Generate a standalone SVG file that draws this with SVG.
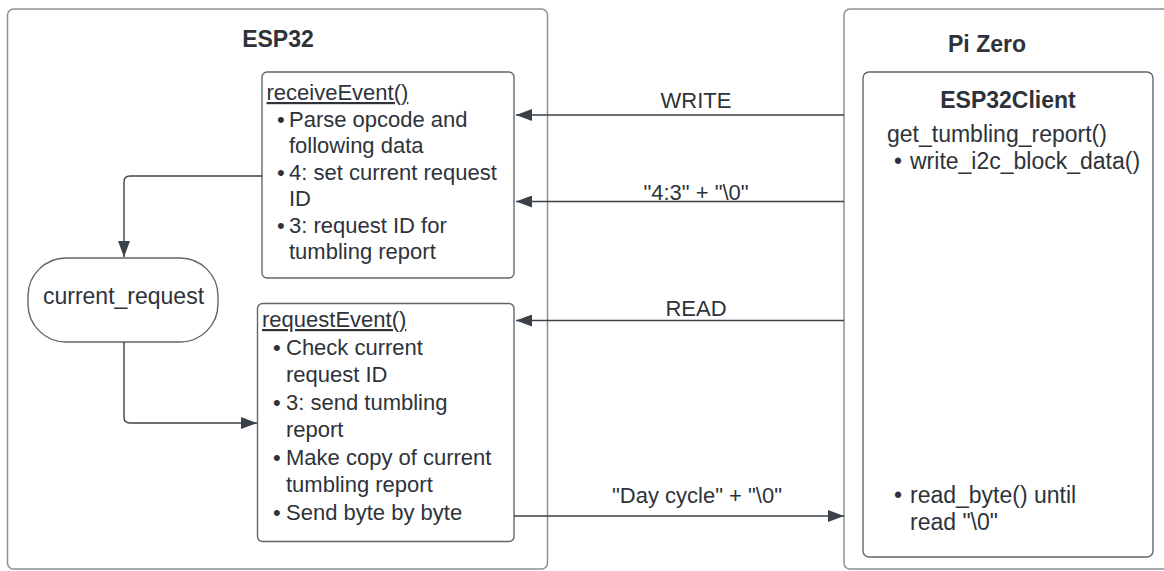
<svg xmlns="http://www.w3.org/2000/svg" width="1164" height="571" viewBox="0 0 1164 571">
<defs>
<style>
text{font-family:"Liberation Sans",Arial,sans-serif;font-size:22px;fill:#2e333a}
.title{font-weight:bold;text-anchor:middle;font-size:23px}
.big{font-size:23px}
.lbl{text-anchor:middle}
.u{text-decoration:underline}
.outer{fill:#fff;stroke:#8c9096;stroke-width:1.5}
.inner{fill:#fff;stroke:#62666c;stroke-width:1.4}
.conn{fill:none;stroke:#3b4149;stroke-width:1.4}
</style>
<marker id="ah" markerUnits="userSpaceOnUse" markerWidth="16" markerHeight="12" refX="16" refY="6" orient="auto">
<path d="M0,0 L16,6 L0,12 z" fill="#3b4149"/>
</marker>
</defs>
<rect width="1164" height="571" fill="#fff"/>
<g id="esp32">
<rect class="outer" x="7.5" y="9" width="540" height="560" rx="6"/>
<text class="title" x="278" y="47">ESP32</text>
</g>
<g id="pizero">
<rect class="outer" x="844" y="9" width="330" height="560" rx="6"/>
<text class="title" x="987" y="52">Pi Zero</text>
</g>
<g id="esp32client">
<rect class="inner" x="863" y="72" width="290" height="485" rx="6"/>
<text class="title" x="1008" y="108">ESP32Client</text>
<text class="big" x="887" y="142">get_tumbling_report()</text>
<text class="big"><tspan x="894" y="169">•</tspan><tspan x="910" y="169">write_i2c_block_data()</tspan></text>
<text class="big"><tspan x="894" y="503">•</tspan><tspan x="910" y="503">read_byte() until</tspan></text>
<text class="big" x="910" y="530">read "\0"</text>
</g>
<g id="receiveEvent">
<rect class="inner" x="262" y="72" width="252" height="206" rx="5"/>
<text class="u" x="266.5" y="100">receiveEvent()</text>
<text><tspan x="277" y="126.5">•</tspan><tspan x="289" y="126.5">Parse opcode and</tspan></text>
<text x="289" y="153">following data</text>
<text><tspan x="277" y="179.5">•</tspan><tspan x="289" y="179.5">4: set current request</tspan></text>
<text x="289" y="206">ID</text>
<text><tspan x="277" y="232.5">•</tspan><tspan x="289" y="232.5">3: request ID for</tspan></text>
<text x="289" y="259">tumbling report</text>
</g>
<g id="currentRequest">
<rect class="inner" x="28" y="258" width="190" height="84" rx="38"/>
<text class="lbl big" x="123.5" y="304">current_request</text>
</g>
<g id="requestEvent">
<rect class="inner" x="257.5" y="303.5" width="256.5" height="238" rx="5"/>
<text class="u" x="262" y="327">requestEvent()</text>
<text><tspan x="273" y="354.5">•</tspan><tspan x="286" y="354.5">Check current</tspan></text>
<text x="286" y="382">request ID</text>
<text><tspan x="273" y="409.5">•</tspan><tspan x="286" y="409.5">3: send tumbling</tspan></text>
<text x="286" y="437">report</text>
<text><tspan x="273" y="464.5">•</tspan><tspan x="286" y="464.5">Make copy of current</tspan></text>
<text x="286" y="492">tumbling report</text>
<text><tspan x="273" y="519.5">•</tspan><tspan x="286" y="519.5">Send byte by byte</tspan></text>
</g>
<g id="connectors">
<path class="conn" d="M262,176 H130 Q124,176 124,182 V257" marker-end="url(#ah)"/>
<path class="conn" d="M124,342 V417 Q124,423 130,423 H257" marker-end="url(#ah)"/>
<path class="conn" d="M844,115 H516" marker-end="url(#ah)"/>
<path class="conn" d="M844,201.5 H516" marker-end="url(#ah)"/>
<path class="conn" d="M844,320.5 H516" marker-end="url(#ah)"/>
<path class="conn" d="M514,516 H844" marker-end="url(#ah)"/>
<text class="lbl" x="696" y="108">WRITE</text>
<text class="lbl" x="696" y="200">"4:3" + "\0"</text>
<text class="lbl" x="696" y="315.5">READ</text>
<text class="lbl" x="697" y="502.5">"Day cycle" + "\0"</text>
</g>
</svg>
